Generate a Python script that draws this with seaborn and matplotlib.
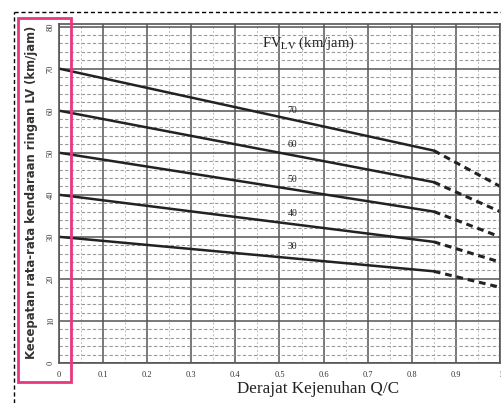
import seaborn as sns
import matplotlib.pyplot as plt
import pandas as pd
from matplotlib.lines import Line2D
from matplotlib.patches import Rectangle
from matplotlib.ticker import MultipleLocator

# free-flow speed curves FV_LV (km/jam) vs degree of saturation Q/C
fv_levels = [70, 60, 50, 40, 30]
qc_points = [0.0, 0.85, 1.0]
speed_at_085 = [50.5, 43.0, 36.0, 28.8, 21.8]
speed_at_100 = [42.0, 36.0, 30.0, 24.0, 18.0]
label_x = [0.53, 0.53, 0.53, 0.53, 0.53]
label_y = [60.0, 52.0, 43.7, 35.6, 27.8]

xtick_vals = [0, 0.1, 0.2, 0.3, 0.4, 0.5, 0.6, 0.7, 0.8, 0.9, 1.0]
xtick_text = ["0", "0.1", "0.2", "0.3", "0.4", "0.5", "0.6", "0.7", "0.8", "0.9", "1"]
ytick_vals = [0, 10, 20, 30, 40, 50, 60, 70, 80]

sns.set_style("white")
plt.rcParams['font.family'] = ['Liberation Serif', 'DejaVu Serif']
plt.rcParams['mathtext.fontset'] = 'stix'

fig = plt.figure(figsize=(5.02, 4.03), dpi=100)
ax = fig.add_axes([0.1175, 0.0993, 0.8785, 0.8411])

rows = []
for fv, v85, v100 in zip(fv_levels, speed_at_085, speed_at_100):
    rows.append({"fv": fv, "qc": qc_points[0], "v": fv, "part": "solid"})
    rows.append({"fv": fv, "qc": qc_points[1], "v": v85, "part": "solid"})
    rows.append({"fv": fv, "qc": qc_points[1], "v": v85, "part": "dash"})
    rows.append({"fv": fv, "qc": qc_points[2], "v": v100, "part": "dash"})
df = pd.DataFrame(rows)

for fv in fv_levels:
    sub = df[(df.fv == fv) & (df.part == "solid")]
    sns.lineplot(data=sub, x="qc", y="v", color="#222222", lw=1.8, ax=ax, legend=False)
    sub = df[(df.fv == fv) & (df.part == "dash")]
    sns.lineplot(data=sub, x="qc", y="v", color="#222222", lw=2.2, ax=ax,
                 legend=False, dashes=False, linestyle=(0, (2.2, 1.6)))

for fv, lx, ly in zip(fv_levels, label_x, label_y):
    ax.text(lx, ly, str(fv), fontsize=7, ha="center", va="center", color="#222222")

ax.text(0.46, 76, "FV$_{\\mathrm{LV}}$ (km/jam)", fontsize=10.5, ha="left", va="center",
        color="#222222")

ax.set_xlim(0, 1.0)
ax.set_ylim(0, 80.6)
ax.xaxis.set_minor_locator(MultipleLocator(0.05))
ax.yaxis.set_minor_locator(MultipleLocator(2))
ax.set_xticks(xtick_vals)
ax.set_xticklabels(xtick_text)
ax.set_yticks(ytick_vals)
ax.tick_params(axis="x", labelsize=6, length=0, pad=6, colors="#333333")
ax.tick_params(axis="y", labelsize=6, length=0, pad=3, colors="#333333")
for t in ax.get_yticklabels():
    t.set_rotation(90)
    t.set_va("center")

ax.grid(which="major", color="#555555", lw=1.1)
ax.grid(which="minor", axis="y", color="#999999", lw=0.8, linestyle=(0, (3, 2)))
ax.grid(which="minor", axis="x", color="#bbbbbb", lw=0.7, linestyle=(0, (2, 2)))
ax.set_axisbelow(True)
for s in ax.spines.values():
    s.set_color("#555555")
    s.set_linewidth(1.2)

ax.set_xlabel("Derajat Kejenuhan Q/C", fontsize=12.3, color="#222222")
ax.xaxis.set_label_coords(0.587, -0.052)
ax.set_ylabel("Kecepatan rata-rata kendaraan ringan LV (km/jam)", fontsize=8.4,
              color="#333333", fontweight="bold", family=["DejaVu Sans"])
ax.yaxis.set_label_coords(-0.048, 0.503)

# dashed page border and highlight box
fig.add_artist(Line2D([0.0279, 1.0], [0.970, 0.970], color="black", lw=1.0,
                      linestyle=(0, (3, 2)), transform=fig.transFigure))
fig.add_artist(Line2D([0.0279, 0.0279], [0.0, 0.970], color="black", lw=1.0,
                      linestyle=(0, (3, 2)), transform=fig.transFigure))
fig.add_artist(Rectangle((0.0359, 0.052), 0.1055, 0.903, fill=False,
                         edgecolor="#e8367f", lw=2.0, transform=fig.transFigure))

fig.savefig("out.png", dpi=100)
